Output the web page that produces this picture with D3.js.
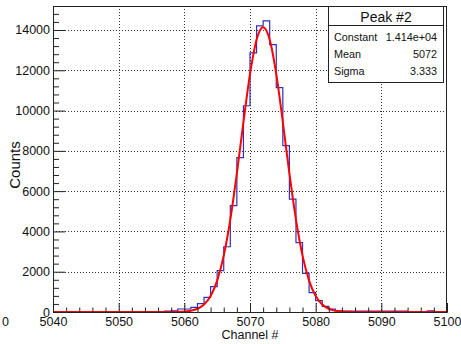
<!DOCTYPE html>
<html>
<head>
  <title>Peak #2</title>
  <script src="https://d3js.org/d3.v7.min.js"></script>
  <style>
    body { margin: 0; background: #fff; }
    text { font-family: "Liberation Sans", Arial, Helvetica, sans-serif; fill: #111; }
  </style>
</head>
<body>
  <div id="chart"></div>
  <script>
    // Histogram bins (lower edge of each 1-channel bin) and their counts
    const channels = [5057, 5058, 5059, 5060, 5061, 5062, 5063, 5064, 5065, 5066,
                      5067, 5068, 5069, 5070, 5071, 5072, 5073, 5074, 5075, 5076,
                      5077, 5078, 5079, 5080, 5081, 5082, 5083, 5084, 5085, 5086,
                      5087, 5088, 5089, 5090, 5091, 5092, 5093, 5094, 5095, 5096,
                      5097, 5098];
    const counts = [50, 60, 150, 150, 230, 420, 730, 1260, 2050, 3240,
                    5280, 7660, 10240, 12860, 14200, 14450, 13270, 11140, 8260, 5600,
                    3440, 1920, 960, 560, 280, 150, 60, 40, 40, 40,
                    40, 40, 40, 40, 40, 40, 40, 0, 0, 0,
                    60, 0];

    // Gaussian fit curve
    const fitChannels = [5040, 5057, 5058, 5059, 5060, 5061, 5062, 5063, 5064, 5065, 5066,
                         5067, 5068, 5069, 5070, 5071, 5072, 5073, 5074, 5075, 5076,
                         5077, 5078, 5079, 5080, 5081, 5082, 5083, 5084, 5085, 5086, 5087, 5100];
    const fitValues = [0, 0, 2, 7, 22, 60, 160, 370, 790, 1560, 2800,
                       4590, 6880, 9430, 11810, 13520, 14140, 13520, 11810, 9430, 6880,
                       4590, 2800, 1560, 790, 370, 160, 60, 22, 7, 2, 0, 0];

    const xTicks = [5040, 5050, 5060, 5070, 5080, 5090, 5100];
    const yTicks = [0, 2000, 4000, 6000, 8000, 10000, 12000, 14000];

    const statsTitle = "Peak #2";
    const statsNames = ["Constant", "Mean", "Sigma"];
    const statsValues = ["1.414e+04", "5072", "3.333"];

    const width = 461, height = 344;
    const padL = 53, padR = 447, padT = 6, padB = 312;

    const svg = d3.select("#chart")
      .append("svg")
      .attr("width", width)
      .attr("height", height);

    const x = d3.scaleLinear().domain([5040, 5100]).range([padL, padR]);
    const y = d3.scaleLinear().domain([0, 15191]).range([padB, padT]);

    const minorX = d3.range(5040, 5101, 2).filter(v => !xTicks.includes(v));
    const minorY = d3.range(0, 15191, 400).filter(v => !yTicks.includes(v));

    // dotted grid
    const grid = svg.append("g").attr("stroke", "#333").attr("stroke-dasharray", "1,2")
      .attr("shape-rendering", "crispEdges");
    grid.selectAll(".gx")
      .data(xTicks.slice(1, -1))
      .enter().append("line")
      .attr("x1", d => Math.round(x(d)) + 0.5).attr("x2", d => Math.round(x(d)) + 0.5)
      .attr("y1", padT).attr("y2", padB);
    grid.selectAll(".gy")
      .data(yTicks.slice(1))
      .enter().append("line")
      .attr("x1", padL).attr("x2", padR)
      .attr("y1", d => Math.round(y(d)) + 0.5).attr("y2", d => Math.round(y(d)) + 0.5);

    // histogram outline (steps)
    const bins = d3.range(5040, 5100).map(c => {
      const i = channels.indexOf(c);
      return { lo: c, hi: c + 1, n: i < 0 ? 0 : counts[i] };
    });
    const stepPts = [[5040, 0]];
    bins.forEach(b => { stepPts.push([b.lo, b.n]); stepPts.push([b.hi, b.n]); });
    stepPts.push([5100, 0]);

    svg.append("path")
      .datum(stepPts)
      .attr("fill", "none")
      .attr("stroke", "#3030b8")
      .attr("stroke-width", 1.2)
      .attr("d", d3.line().x(d => x(d[0])).y(d => y(d[1])));

    // fit curve
    svg.append("path")
      .datum(fitChannels.map((c, i) => [c, fitValues[i]]))
      .attr("fill", "none")
      .attr("stroke", "#ff0000")
      .attr("stroke-width", 2)
      .attr("d", d3.line().curve(d3.curveMonotoneX).x(d => x(d[0])).y(d => y(d[1])));

    // frame
    svg.append("rect")
      .attr("x", padL + 0.5).attr("y", padT + 0.5)
      .attr("width", padR - padL - 1).attr("height", padB - padT)
      .attr("fill", "none").attr("stroke", "#222");

    // axes with inward ticks
    svg.append("g").attr("transform", `translate(0,${padB})`)
      .call(d3.axisBottom(x).tickValues(xTicks).tickSizeInner(-9).tickSizeOuter(0)
        .tickPadding(5).tickFormat(d3.format("d")));
    svg.append("g").attr("transform", `translate(0,${padB})`)
      .call(d3.axisBottom(x).tickValues(minorX).tickSizeInner(-4.5).tickSizeOuter(0).tickFormat(""));

    svg.append("g").attr("transform", `translate(${padL},0)`)
      .call(d3.axisLeft(y).tickValues(yTicks).tickSizeInner(-12).tickSizeOuter(0)
        .tickPadding(3).tickFormat(d3.format("d")));
    svg.append("g").attr("transform", `translate(${padL},0)`)
      .call(d3.axisLeft(y).tickValues(minorY).tickSizeInner(-6).tickSizeOuter(0).tickFormat(""));

    svg.selectAll(".domain").attr("stroke", "#222");
    svg.selectAll(".tick line").attr("stroke", "#222");
    svg.selectAll(".tick text")
      .style("font-size", "12.5px")
      .style("font-family", "'Liberation Sans', Arial, sans-serif")
      .attr("fill", "#111");

    // stray clipped label at left edge
    svg.append("text").attr("x", 2).attr("y", 326)
      .style("font-size", "12.5px").text("0");

    // axis titles
    svg.append("text")
      .attr("x", (padL + padR) / 2).attr("y", 339)
      .attr("text-anchor", "middle")
      .style("font-size", "12.5px")
      .text("Channel #");
    svg.append("text")
      .attr("transform", "translate(20,165) rotate(-90)")
      .attr("text-anchor", "middle")
      .style("font-size", "15px")
      .text("Counts");

    // stats box
    const box = svg.append("g");
    box.append("rect")
      .attr("x", 328.5).attr("y", 6.5).attr("width", 115).attr("height", 76)
      .attr("fill", "#fff").attr("stroke", "#222");
    box.append("line")
      .attr("x1", 328.5).attr("x2", 443.5).attr("y1", 25.5).attr("y2", 25.5)
      .attr("stroke", "#222");
    box.append("text")
      .attr("x", 386).attr("y", 22).attr("text-anchor", "middle")
      .style("font-size", "14px").text(statsTitle);
    box.selectAll(".sname")
      .data(statsNames)
      .enter().append("text")
      .attr("x", 334).attr("y", (d, i) => 41 + i * 17)
      .style("font-size", "10.8px").text(d => d);
    box.selectAll(".sval")
      .data(statsValues)
      .enter().append("text")
      .attr("x", 437).attr("y", (d, i) => 41 + i * 17)
      .attr("text-anchor", "end")
      .style("font-size", "10.8px").text(d => d);
  </script>
</body>
</html>
